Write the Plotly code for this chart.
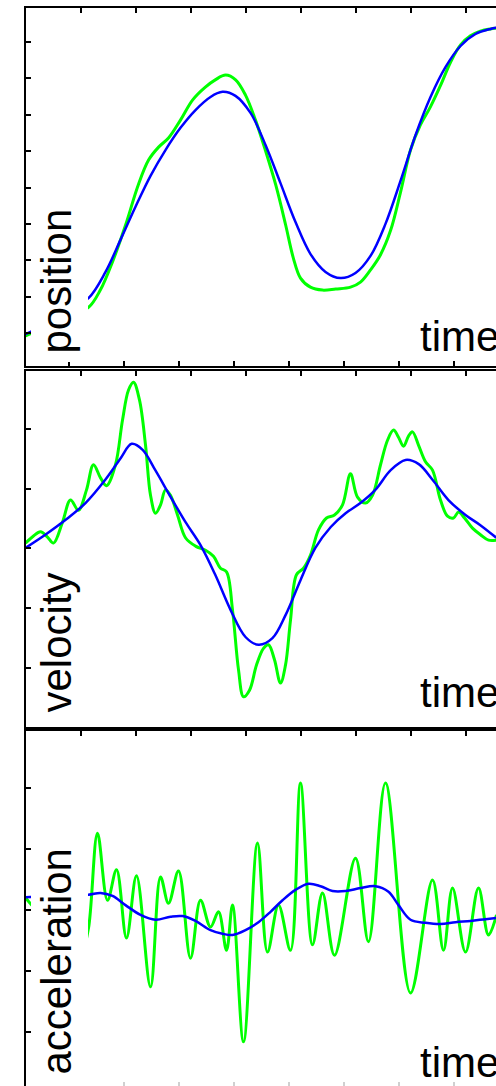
import plotly.graph_objects as go

# ---------------- data ----------------
# time axis (arbitrary units, tick every 1)
pos_blue_t = [0, 0.455, 0.818, 1.145, 1.455, 1.727, 2.0, 2.273, 2.545, 2.818, 3.091, 3.364, 3.582, 3.818,
              4.091, 4.364, 4.636, 4.909, 5.182, 5.455, 5.727, 6.0, 6.273, 6.545, 6.818, 7.091, 7.364,
              7.636, 7.909, 8.182, 8.455, 8.636]
pos_blue = [0.97, 1.30, 1.69, 1.96, 2.68, 3.56, 4.47, 5.32, 6.03, 6.64, 7.13, 7.49, 7.63, 7.52,
            7.05, 6.17, 5.12, 4.05, 3.17, 2.68, 2.51, 2.65, 3.12, 4.00, 5.18, 6.44, 7.49,
            8.31, 8.89, 9.22, 9.36, 9.41]

pos_green_t = [0, 0.45, 0.82, 1.15, 1.36, 1.58, 1.82, 2.05, 2.24, 2.42, 2.6, 2.82, 3.04, 3.27, 3.45,
               3.64, 3.82, 4.0, 4.18, 4.36, 4.55, 4.73, 4.87, 5.0, 5.18, 5.4, 5.64, 5.91, 6.09, 6.27,
               6.45, 6.64, 6.82, 7.0, 7.18, 7.36, 7.55, 7.73, 7.91, 8.09, 8.27, 8.45, 8.64]
pos_green = [0.92, 1.22, 1.49, 1.71, 2.18, 2.95, 3.97, 5.07, 5.76, 6.11, 6.36, 6.86, 7.41, 7.76, 7.96,
             8.09, 7.96, 7.54, 6.86, 6.03, 5.07, 3.97, 3.06, 2.51, 2.26, 2.18, 2.21, 2.26, 2.40, 2.73,
             3.14, 3.83, 4.88, 6.03, 6.72, 7.21, 7.82, 8.45, 8.92, 9.17, 9.30, 9.36, 9.39]

vel_blue_t = [0, 0.36, 0.73, 1.09, 1.45, 1.73, 1.93, 2.13, 2.36, 2.64, 2.91, 3.18, 3.45, 3.73, 4.0,
              4.24, 4.49, 4.73, 5.0, 5.27, 5.55, 5.82, 6.09, 6.36, 6.64, 6.91, 7.15, 7.4, 7.69, 8.0,
              8.27, 8.56]
vel_blue = [0.01, 0.23, 0.48, 0.76, 1.15, 1.51, 1.75, 1.65, 1.31, 0.86, 0.44, 0.06, -0.44, -1.03, -1.48,
            -1.61, -1.50, -1.11, -0.53, 0.01, 0.36, 0.59, 0.76, 0.98, 1.31, 1.48, 1.41, 1.15, 0.81, 0.56,
            0.39, 0.18]

vel_green_t = [0, 0.145, 0.273, 0.4, 0.509, 0.673, 0.818, 0.964, 1.109, 1.236, 1.364, 1.473, 1.636,
               1.764, 1.873, 1.964, 2.073, 2.182, 2.273, 2.364, 2.455, 2.545, 2.636, 2.764, 2.909,
               3.091, 3.273, 3.418, 3.545, 3.655, 3.764, 3.873, 3.964, 4.073, 4.2, 4.327, 4.418,
               4.527, 4.636, 4.727, 4.818, 4.927, 5.055, 5.182, 5.327, 5.473, 5.618, 5.764, 5.909,
               6.036, 6.182, 6.309, 6.455, 6.582, 6.691, 6.782, 6.873, 6.964, 7.036, 7.145, 7.273,
               7.4, 7.545, 7.673, 7.782, 7.873, 7.982, 8.127, 8.273, 8.418, 8.564]
vel_green = [0.09, 0.21, 0.28, 0.19, 0.09, 0.44, 0.81, 0.64, 0.98, 1.40, 1.18, 1.05, 1.40,
             2.15, 2.65, 2.78, 2.48, 1.73, 0.89, 0.59, 0.73, 0.98, 0.89, 0.56, 0.18,
             0.04, -0.03, -0.13, -0.33, -0.39, -1.03, -2.03, -2.48, -2.37, -1.95, -1.67, -1.61,
             -1.86, -2.25, -1.95, -1.20, -0.44, -0.33, -0.11, 0.31, 0.51, 0.56, 0.73, 1.25,
             0.86, 0.76, 0.89, 1.40, 1.81, 1.98, 1.86, 1.71, 1.88, 1.95, 1.73, 1.45,
             1.31, 0.81, 0.54, 0.51, 0.61, 0.51, 0.34, 0.23, 0.14, 0.14]

acc_blue_t = [0, 0.455, 0.818, 1.145, 1.364, 1.582, 1.818, 2.091, 2.364, 2.636, 2.855, 3.091, 3.364,
              3.582, 3.764, 4.0, 4.236, 4.455, 4.673, 4.909, 5.145, 5.364, 5.582, 5.818, 6.091, 6.364,
              6.6, 6.782, 7.0, 7.273, 7.545, 7.818, 8.091, 8.364, 8.564]
acc_blue = [0.21, 0.23, 0.25, 0.25, 0.28, 0.23, 0.08, -0.08, -0.16, -0.11, -0.10, -0.18, -0.33,
            -0.39, -0.41, -0.33, -0.20, -0.03, 0.16, 0.33, 0.43, 0.39, 0.31, 0.31, 0.36, 0.39,
            0.30, 0.08, -0.16, -0.21, -0.23, -0.20, -0.18, -0.15, -0.13]

acc_green_t = [0, 0.364, 0.727, 1.055, 1.145, 1.309, 1.491, 1.655, 1.836, 2.018, 2.273, 2.455, 2.6,
               2.782, 3.0, 3.182, 3.364, 3.509, 3.655, 3.764, 3.964, 4.218, 4.4, 4.6, 4.818, 5.0,
               5.218, 5.4, 5.618, 6.0, 6.236, 6.545, 7.0, 7.4, 7.6, 7.764, 8.0, 8.236, 8.418, 8.564]
acc_green = [0.20, -0.08, 0.16, -0.57, -0.30, 1.26, 0.16, 0.66, -0.46, 0.56, -1.26, 0.54, 0.11,
             0.64, -0.79, 0.16, -0.28, -0.03, -0.66, 0.08, -2.16, 1.10, -0.69, 0.08, -0.66, 2.08,
             -0.57, 0.28, -0.74, 0.85, -0.52, 2.08, -1.36, 0.49, -0.66, 0.36, -0.69, 0.36, -0.41, -0.08]

panel_labels = ["position", "velocity", "acceleration"]
time_label = "time"
x_ticks = [1, 2, 3, 4, 5, 6, 7, 8]
x_ticks_offset = [0.782 + k for k in range(8)]
pos_ticks = [1, 2, 3, 4, 5, 6, 7, 8, 9]
vel_ticks = [-2, -1, 0, 1, 2]
acc_ticks = [-2, -1, 0, 1, 2]

# ---------------- figure ----------------
W, H = 496, 1086
GREEN = "#00ff00"
BLUE = "#0000ff"
FONT = "Liberation Sans, Arial, Helvetica, sans-serif"

fig = go.Figure()

def add_pair(t_g, g, t_b, b, xa, ya):
    fig.add_trace(go.Scatter(x=t_g, y=g, mode="lines", xaxis=xa, yaxis=ya,
                             line=dict(color=GREEN, width=3, shape="spline", smoothing=1.0),
                             showlegend=False, hoverinfo="skip"))
    fig.add_trace(go.Scatter(x=t_b, y=b, mode="lines", xaxis=xa, yaxis=ya,
                             line=dict(color=BLUE, width=2.5, shape="spline", smoothing=1.0),
                             showlegend=False, hoverinfo="skip"))

add_pair(pos_green_t, pos_green, pos_blue_t, pos_blue, "x", "y")
add_pair(vel_green_t, vel_green, vel_blue_t, vel_blue, "x2", "y2")
add_pair(acc_green_t, acc_green, acc_blue_t, acc_blue, "x3", "y3")
# empty traces to ensure overlay tick axes are drawn
fig.add_trace(go.Scatter(x=[], y=[], xaxis="x4", yaxis="y", showlegend=False, hoverinfo="skip"))
fig.add_trace(go.Scatter(x=[], y=[], xaxis="x5", yaxis="y3", showlegend=False, hoverinfo="skip"))

xdom = [25.5 / W, 1.0]
xrange = [0, (W - 25.5) / 55.0]

def dom(top_px, bot_px):
    return [max(0.0, 1 - bot_px / H), 1 - top_px / H]

common_x = dict(domain=xdom, range=xrange, showgrid=False, zeroline=False, showticklabels=False,
                showline=True, linecolor="black", linewidth=2, ticks="inside", ticklen=5,
                tickwidth=2, tickcolor="black")
common_y = dict(showgrid=False, zeroline=False, showticklabels=False, showline=True,
                linecolor="black", linewidth=2, ticks="inside", ticklen=5, tickwidth=2,
                tickcolor="black", mirror=False)

fig.update_layout(
    width=W, height=H,
    margin=dict(l=0, r=0, t=0, b=0),
    paper_bgcolor="white", plot_bgcolor="white",
    xaxis=dict(common_x, anchor="y", side="top", mirror=True, tickvals=x_ticks),
    yaxis=dict(common_y, domain=dom(8, 366), range=[0.093, 9.935], tickvals=pos_ticks),
    xaxis2=dict(common_x, anchor="y2", side="top", mirror=True, tickvals=x_ticks),
    yaxis2=dict(common_y, domain=dom(371, 727), range=[-2.985, 2.968], tickvals=vel_ticks),
    xaxis3=dict(common_x, anchor="y3", side="top", mirror=False, tickvals=x_ticks),
    yaxis3=dict(common_y, domain=dom(731, 1086), range=[-2.885, 2.934], tickvals=acc_ticks),
    xaxis4=dict(common_x, overlaying="x", anchor="y", side="bottom", showline=False,
                tickvals=x_ticks_offset),
    xaxis5=dict(common_x, overlaying="x3", anchor="y3", side="bottom", showline=False,
                tickvals=x_ticks_offset, tickcolor="#d0d0d0", ticklen=4),
)

# white boxes behind rotated labels (hide curves there)
label_boxes = [(200, 362), (562, 724), (840, 1086)]
for top_px, bot_px in label_boxes:
    fig.add_shape(type="rect", xref="paper", yref="paper",
                  x0=31 / W, x1=88 / W, y0=1 - bot_px / H, y1=1 - top_px / H,
                  fillcolor="white", line=dict(width=0), layer="above")

label_centers = [281, 643, 962]
for txt, cy in zip(panel_labels, label_centers):
    fig.add_annotation(text=txt, xref="paper", yref="paper", x=55.5 / W, y=1 - cy / H,
                       xanchor="center", yanchor="middle", textangle=-90, showarrow=False,
                       font=dict(family=FONT, size=42, color="black"))

time_bottoms = [362, 718, 1088]
for yb in time_bottoms:
    fig.add_annotation(text=time_label, xref="paper", yref="paper", x=418 / W, y=1 - yb / H,
                       xanchor="left", yanchor="bottom", showarrow=False,
                       font=dict(family=FONT, size=42, color="black"))

fig.write_html("out.html",
               config={"displayModeBar": False, "staticPlot": True},
               post_script="document.body.style.margin='0';document.body.style.overflow='hidden';")
